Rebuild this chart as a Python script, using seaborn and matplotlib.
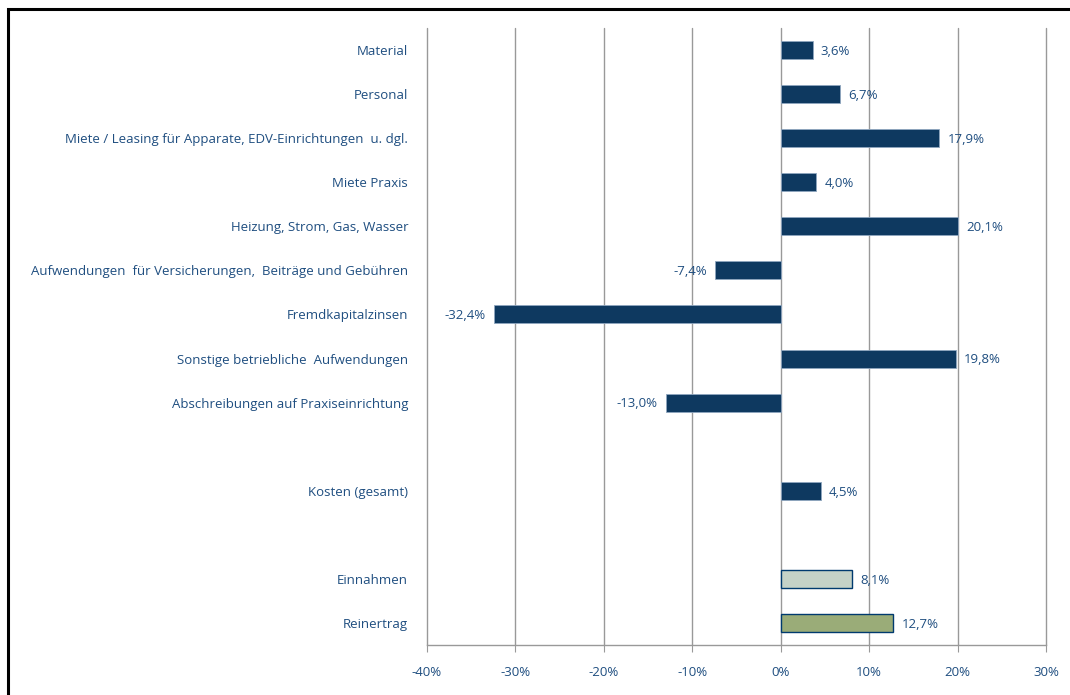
import pandas as pd
import seaborn as sns
import matplotlib.pyplot as plt
from matplotlib.patches import Rectangle

categories = ['Material', 'Personal', 'Miete / Leasing für Apparate, EDV-Einrichtungen  u. dgl.',
              'Miete Praxis', 'Heizung, Strom, Gas, Wasser',
              'Aufwendungen  für Versicherungen,  Beiträge und Gebühren', 'Fremdkapitalzinsen',
              'Sonstige betriebliche  Aufwendungen', 'Abschreibungen auf Praxiseinrichtung',
              'Kosten (gesamt)', 'Einnahmen', 'Reinertrag']
values = [3.6, 6.7, 17.9, 4.0, 20.1, -7.4, -32.4, 19.8, -13.0, 4.5, 8.1, 12.7]
# blank slots keep the gaps between the groups
order = categories[:9] + [' '] + ['Kosten (gesamt)'] + ['  '] + ['Einnahmen', 'Reinertrag']
xticks = [-40, -30, -20, -10, 0, 10, 20, 30]

navy = '#003A6E'
text_col = '#1F4E80'
colors = {c: navy for c in categories}
colors['Einnahmen'] = '#C3D4C5'
colors['Reinertrag'] = '#9DB56F'

df = pd.DataFrame({'cat': categories, 'val': values})

sns.set_style('white')
plt.rcParams['font.family'] = ['Open Sans', 'DejaVu Sans']

fig = plt.figure(figsize=(10.7, 6.95), dpi=100)
ax = fig.add_axes([427 / 1070, 1 - 645 / 695, (1046 - 427) / 1070, (645 - 28) / 695])

sns.barplot(data=df, x='val', y='cat', order=order, hue='cat', palette=colors,
            legend=False, width=0.41, ax=ax, orient='h')

for cont in ax.containers:
    for bar in cont:
        lab_y = bar.get_y() + bar.get_height() / 2
        cat = order[int(round(lab_y))]
        if cat in ('Einnahmen', 'Reinertrag'):
            bar.set_edgecolor(navy)
            bar.set_linewidth(1.0)
        else:
            bar.set_edgecolor('#8FA6BF')
            bar.set_linewidth(0.6)
        w = bar.get_width()
        txt = f'{w:.1f}%'.replace('.', ',')
        if w >= 0:
            ax.annotate(txt, (w, lab_y), xytext=(6, -1), textcoords='offset points',
                        ha='left', va='center', fontsize=9.5, color=text_col)
        else:
            ax.annotate(txt, (w, lab_y), xytext=(-6, -1), textcoords='offset points',
                        ha='right', va='center', fontsize=9.5, color=text_col)

ax.set_xlim(-40, 30)
ax.set_xticks(xticks)
ax.set_xticklabels([f'{t}%' for t in xticks], fontsize=9.5, color=text_col)
ax.tick_params(axis='x', bottom=True, length=5, color='#999999', pad=10)
ax.tick_params(axis='y', left=False, pad=10, labelsize=9.5, labelcolor=text_col)
ax.xaxis.grid(True, color='#999999', linewidth=1.0)
for gl in ax.get_xgridlines():
    gl.set_clip_on(False)
ax.yaxis.grid(False)
ax.set_axisbelow(True)
for s in ['top', 'right', 'left']:
    ax.spines[s].set_visible(False)
ax.spines['bottom'].set_color('#999999')
ax.spines['bottom'].set_linewidth(1.0)
ax.set_xlabel('')
ax.set_ylabel('')

# black frame around the chart, cut off at the right and bottom
fig.patches.append(Rectangle((7.5 / 1070, -0.1), 1.2, 1 - 8.5 / 695 + 0.1, transform=fig.transFigure,
                             fill=False, edgecolor='black', linewidth=2.2, zorder=10))

fig.savefig('out.png', dpi=100)
